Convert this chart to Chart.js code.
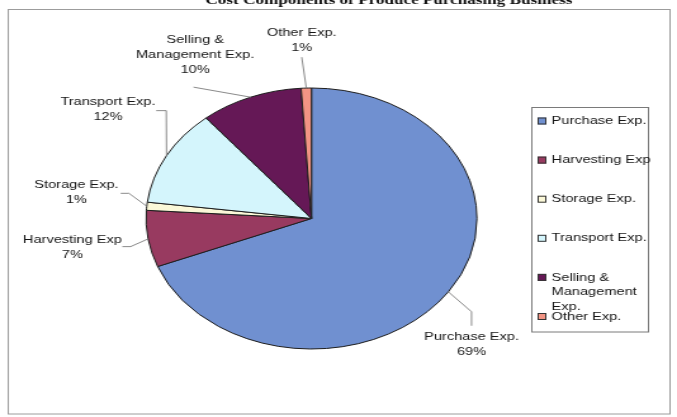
<!DOCTYPE html>
<html>
<head>
<meta charset="utf-8">
<script src="https://cdn.jsdelivr.net/npm/chart.js@4/dist/chart.umd.min.js"></script>
<style>
  html, body { margin: 0; padding: 0; background: #fff; overflow: hidden; }
  canvas { display: block; }
</style>
</head>
<body>
<canvas id="c" width="534" height="417" style="width:677px;height:417px"></canvas>
<script>
// Expense categories and their share of total cost (%)
const categories = ['Purchase Exp.', 'Harvesting Exp', 'Storage Exp.', 'Transport Exp.', 'Selling & Management Exp.', 'Other Exp.'];
const shares = [69, 7, 1, 12, 10, 1];
const sliceColors = ['#7090d0', '#983a60', '#fbf8d8', '#d4f5fc', '#651856', '#f29484'];
const chartTitle = 'Cost Components of Produce Purchasing Business';

const FONT = '"Liberation Sans", Arial, sans-serif';
const TEXT_COLOR = '#161616';

// Label placement relative to each slice's outer mid-point: first text line centre and leader bends
const labelPlacement = [
  { text: [18.3, 44.9],   leader: [[18.3, 19.9], [18.3, 33.9]] },
  { text: [-59.7, 1],     leader: [[-13.8, 7.7], [-20.3, 7.7]] },
  { text: [-55.5, -21.2], leader: [[-14.1, -12.9], [-20.6, -12.9]] },
  { text: [-46.2, -54],   leader: [[-0.2, -45], [-8.1, -45]] },
  { text: [-43.7, -57.4], leader: [[-45, -10]] },
  { text: [-3.6, -55.3],  leader: [[-3.6, -30.9]] }
];

function wrapWords(ctx, text, maxWidth) {
  const words = text.split(' ');
  const lines = [];
  let cur = '';
  for (const w of words) {
    const test = cur ? cur + ' ' + w : w;
    if (cur && ctx.measureText(test).width > maxWidth) {
      lines.push(cur);
      cur = w;
    } else {
      cur = test;
    }
  }
  if (cur) lines.push(cur);
  return lines;
}

// Background, outer frame and the heading
const framePlugin = {
  id: 'frame',
  beforeDraw(chart) {
    const ctx = chart.ctx;
    ctx.save();
    ctx.fillStyle = '#fff';
    ctx.fillRect(0, 0, chart.width, chart.height);
    ctx.strokeStyle = '#9c9c9c';
    ctx.lineWidth = 1;
    ctx.strokeRect(6.5, 9.5, 522, 404.5);
    ctx.fillStyle = '#111';
    ctx.font = 'bold 13.5px "Liberation Serif", "Times New Roman", serif';
    ctx.textAlign = 'center';
    ctx.textBaseline = 'alphabetic';
    ctx.fillText(chartTitle, 306.8, 4);
    ctx.restore();
  }
};

// Category name + percentage labels with leader lines
const sliceLabelPlugin = {
  id: 'sliceLabels',
  afterDatasetsDraw(chart) {
    const ctx = chart.ctx;
    const meta = chart.getDatasetMeta(0);
    const values = chart.data.datasets[0].data;
    const total = values.reduce((a, b) => a + b, 0);
    ctx.save();
    ctx.font = '11.5px ' + FONT;
    meta.data.forEach((arc, i) => {
      const p = labelPlacement[i];
      const mid = (arc.startAngle + arc.endAngle) / 2;
      const ax = arc.x + arc.outerRadius * Math.cos(mid);
      const ay = arc.y + arc.outerRadius * Math.sin(mid);
      // leader
      ctx.strokeStyle = '#7d7d7d';
      ctx.lineWidth = 0.9;
      ctx.beginPath();
      ctx.moveTo(ax, ay);
      p.leader.forEach(([dx, dy]) => ctx.lineTo(ax + dx, ay + dy));
      ctx.stroke();
      // text
      const lines = wrapWords(ctx, chart.data.labels[i], 98);
      lines.push(Math.round(values[i] / total * 100) + '%');
      ctx.fillStyle = TEXT_COLOR;
      ctx.textAlign = 'center';
      ctx.textBaseline = 'middle';
      lines.forEach((ln, k) => ctx.fillText(ln, ax + p.text[0], ay + p.text[1] + k * 14.8));
    });
    ctx.restore();
  }
};

// Boxed legend on the right
const legendBoxPlugin = {
  id: 'legendBox',
  afterDraw(chart) {
    const ctx = chart.ctx;
    const colors = chart.data.datasets[0].backgroundColor;
    ctx.save();
    ctx.strokeStyle = '#7a7a7a';
    ctx.lineWidth = 1;
    ctx.strokeRect(419.5, 107.5, 92, 224.5);
    ctx.font = '11.5px ' + FONT;
    ctx.textBaseline = 'middle';
    ctx.textAlign = 'left';
    chart.data.labels.forEach((name, i) => {
      const y = 121 + i * 39.1;
      ctx.fillStyle = colors[i];
      ctx.fillRect(424, y - 3.5, 7, 7);
      ctx.strokeStyle = '#333';
      ctx.strokeRect(424.5, y - 3, 6, 6);
      ctx.fillStyle = TEXT_COLOR;
      wrapWords(ctx, name, 88).forEach((ln, k) => ctx.fillText(ln, 435.1, y + k * 14.5));
    });
    ctx.restore();
  }
};

new Chart(document.getElementById('c').getContext('2d'), {
  type: 'pie',
  data: {
    labels: categories,
    datasets: [{
      data: shares,
      backgroundColor: sliceColors,
      borderColor: '#1e1e1e',
      borderWidth: 1
    }]
  },
  options: {
    responsive: false,
    animation: false,
    devicePixelRatio: 1,
    events: [],
    layout: { padding: { top: 87.5, bottom: 67.5, left: 114.7, right: 157.3 } },
    plugins: {
      legend: { display: false },
      title: { display: false },
      tooltip: { enabled: false }
    }
  },
  plugins: [framePlugin, sliceLabelPlugin, legendBoxPlugin]
});
</script>
</body>
</html>
